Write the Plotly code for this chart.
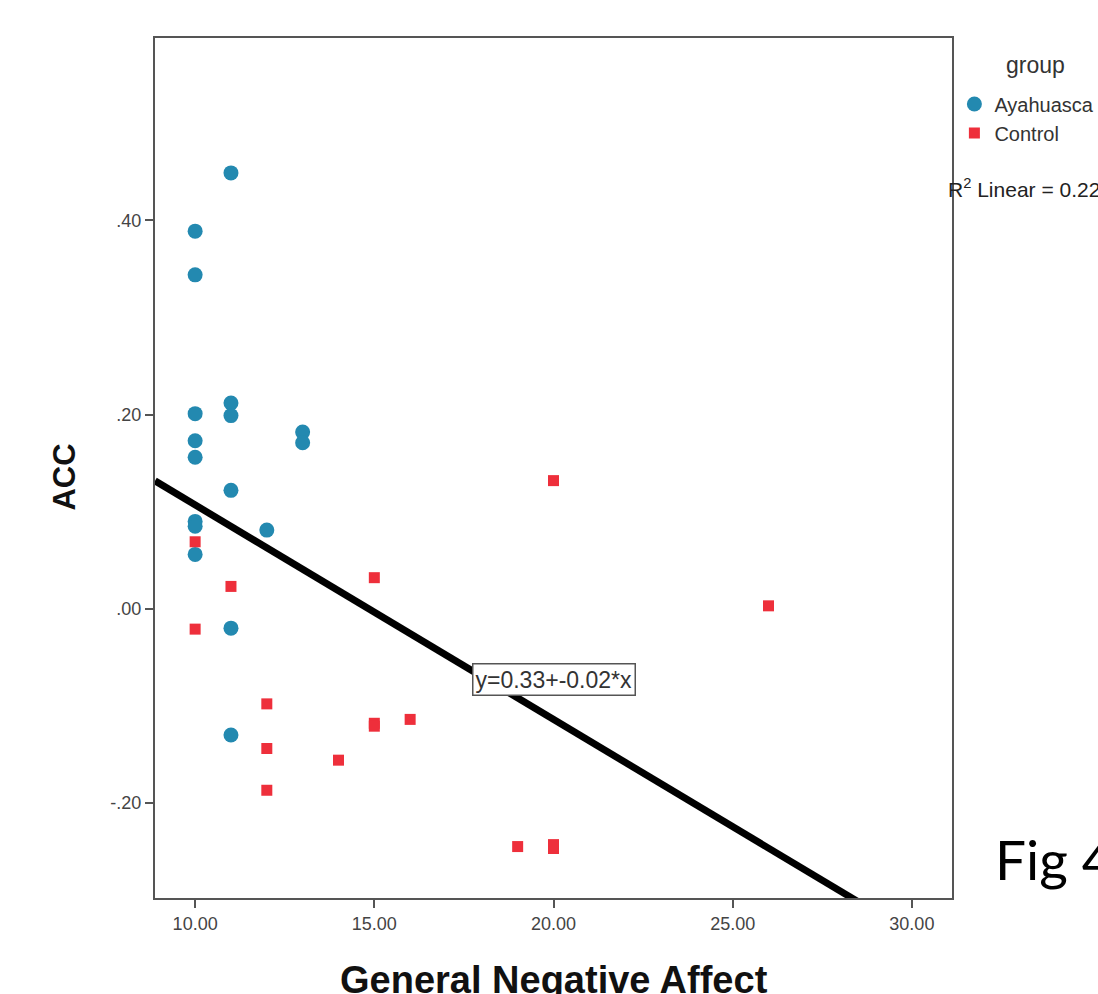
import numpy as np
import plotly.graph_objects as go

# ---- data ----
aya_x = [10, 10, 10, 10, 10, 10, 10, 10, 11, 11, 11, 11, 11, 11, 12, 13, 13]
aya_y = [0.389, 0.344, 0.201, 0.173, 0.156, 0.090, 0.085, 0.056,
         0.449, 0.212, 0.199, 0.122, -0.020, -0.130, 0.081, 0.182, 0.171]
ctl_x = [10, 10, 11, 12, 12, 12, 14, 15, 15, 15, 16, 19, 20, 20, 20, 26]
ctl_y = [0.069, -0.021, 0.023, -0.098, -0.144, -0.187, -0.156, 0.032,
         -0.118, -0.121, -0.114, -0.245, 0.132, -0.243, -0.247, 0.003]

fit_intercept = 0.328
fit_slope = -0.0221

x_range = [8.88, 31.12]
y_range = [-0.298, 0.588]
x_ticks = [10, 15, 20, 25, 30]
x_ticktext = ["10.00", "15.00", "20.00", "25.00", "30.00"]
y_ticks = [-0.2, 0.0, 0.2, 0.4]
y_ticktext = ["-.20", ".00", ".20", ".40"]

all_x = np.array(aya_x + ctl_x, dtype=float)
all_y = np.array(aya_y + ctl_y, dtype=float)
r2 = np.corrcoef(all_x, all_y)[0, 1] ** 2

BLUE = "#2389b0"
RED = "#ee2f3b"
FRAME = "#555555"
FONT = "Liberation Sans, Arial, sans-serif"

fig = go.Figure()

line_x = np.array(x_range)
fig.add_trace(go.Scatter(
    x=line_x, y=fit_intercept + fit_slope * line_x, mode="lines",
    line=dict(color="black", width=7), showlegend=False, hoverinfo="skip"))

fig.add_trace(go.Scatter(
    x=aya_x, y=aya_y, mode="markers", name="Ayahuasca",
    marker=dict(symbol="circle", size=15, color=BLUE)))
fig.add_trace(go.Scatter(
    x=ctl_x, y=ctl_y, mode="markers", name="Control",
    marker=dict(symbol="square", size=11, color=RED)))

axis_common = dict(
    showline=True, mirror=True, linecolor=FRAME, linewidth=2,
    ticks="outside", ticklen=8, tickwidth=2, tickcolor=FRAME,
    showgrid=False, zeroline=False,
    tickfont=dict(family=FONT, size=18, color="#444444"),
)

fig.update_layout(
    width=1098, height=994,
    paper_bgcolor="white", plot_bgcolor="white",
    margin=dict(l=155, r=146, t=38, b=96, autoexpand=False),
    xaxis=dict(range=x_range, tickvals=x_ticks, ticktext=x_ticktext, **axis_common),
    yaxis=dict(range=y_range, tickvals=y_ticks, ticktext=y_ticktext, **axis_common),
    showlegend=True,
    legend=dict(x=1.003, xanchor="left", y=0.946, yanchor="top",
                font=dict(family=FONT, size=20, color="#333333"),
                bgcolor="rgba(0,0,0,0)", tracegroupgap=0, itemsizing="trace"),
    font=dict(family=FONT),
)

fig.add_annotation(
    x=20.0, y=-0.073, xref="x", yref="y",
    text="y=0.33+-0.02*x", showarrow=False,
    font=dict(family=FONT, size=23, color="#333333"),
    bgcolor="white", bordercolor="#555555", borderwidth=1.5, borderpad=2)

# axis titles
fig.add_annotation(
    x=-0.113, y=0.49, xref="paper", yref="paper", textangle=-90,
    text="<b>ACC</b>", showarrow=False, xanchor="center", yanchor="middle",
    font=dict(family=FONT, size=31, color="#111111"))
fig.add_annotation(
    x=0.5, y=-0.069, xref="paper", yref="paper",
    text="<b>General Negative Affect</b>", showarrow=False,
    xanchor="center", yanchor="top",
    font=dict(family=FONT, size=38, color="#111111"))

# legend title and R2 label
fig.add_annotation(
    x=1.105, y=0.969, xref="paper", yref="paper", text="group",
    showarrow=False, xanchor="center", yanchor="middle",
    font=dict(family=FONT, size=23, color="#333333"))
fig.add_annotation(
    x=0.992, y=0.826, xref="paper", yref="paper",
    text="R<sup>2</sup> Linear = %.3f" % r2,
    showarrow=False, xanchor="left", yanchor="middle",
    font=dict(family=FONT, size=21, color="#222222"))

# Fig label
fig.add_annotation(
    x=1.051, y=0.045, xref="paper", yref="paper", text="Fig 4",
    showarrow=False, xanchor="left", yanchor="middle",
    font=dict(family="Lato, Open Sans, sans-serif", size=55, color="black"))

fig.write_html("out.html")
